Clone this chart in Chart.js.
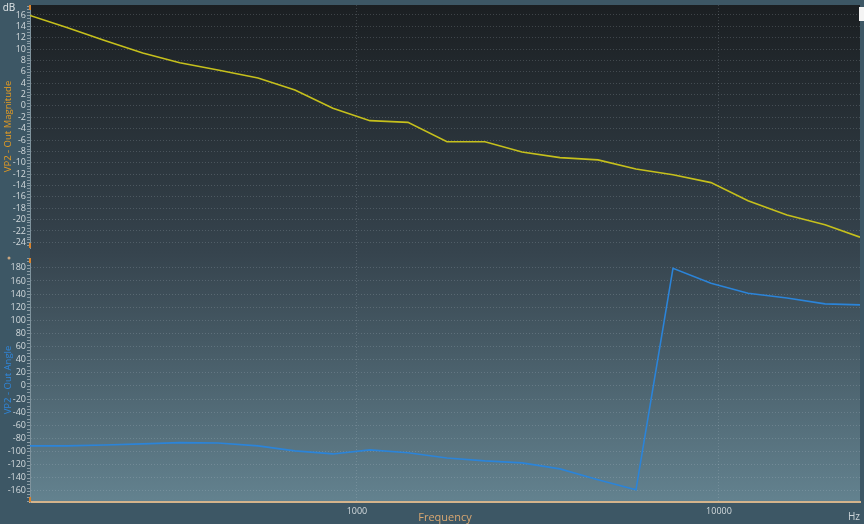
<!DOCTYPE html>
<html><head><meta charset="utf-8">
<script src="https://cdn.jsdelivr.net/npm/chart.js@4.4.1/dist/chart.umd.min.js"></script>
<style>html,body{margin:0;padding:0;background:#3d5765;overflow:hidden}#wrap{width:864px;height:524px;position:relative}canvas{display:block}</style>
</head><body><div id="wrap"><canvas id="c" width="864" height="524" style="width:864px;height:524px"></canvas></div>
<script>
// ---- data ----
const frequencies = [125, 158, 201, 256, 324, 413, 533, 674, 858, 1086, 1383, 1773, 2257, 2857, 3638, 4632, 5898, 7464, 9504, 12030, 15410, 19630, 24520];
const magnitudeDb = [15.9, 13.8, 11.5, 9.3, 7.6, 6.3, 4.9, 2.8, -0.4, -2.6, -2.9, -6.3, -6.3, -8.1, -9.1, -9.5, -11.1, -12.1, -13.5, -16.7, -19.2, -20.9, -23.1];
const angleDeg = [-91.5, -91.5, -90, -88.4, -86.5, -87, -91.5, -99, -103.7, -97.6, -102, -109.8, -114.3, -117.4, -126.5, -143, -158.5, 179.4, 156.6, 141.3, 134, 125, 123.5];
const magTicks = [16, 14, 12, 10, 8, 6, 4, 2, 0, -2, -4, -6, -8, -10, -12, -14, -16, -18, -20, -22, -24];
const angTicks = [180, 160, 140, 120, 100, 80, 60, 40, 20, 0, -20, -40, -60, -80, -100, -120, -140, -160];
const freqTicks = [1000, 10000];
const magRange = [-25, 17.75];
const angRange = [-177, 195];

const FONT = "'Open Sans', 'Noto Sans', sans-serif";
const tickColor = '#d3dadd';
const gridColor = 'rgba(200,212,218,0.2)';

const fitY = s => { s.width = 30; s.paddingTop = 0; s.paddingBottom = 0; };
const fitX = s => { s.height = 22; s.paddingLeft = 0; s.paddingRight = 0; };

const decor = {
  id: 'decor',
  afterLayout(chart) {
    const ca = chart.chartArea, m = chart.scales.yMag, a = chart.scales.yAng;
    m.top = ca.top; m.bottom = 248; m.height = m.bottom - m.top; m.configure();
    a.top = 258; a.bottom = ca.bottom; a.height = a.bottom - a.top; a.configure();
  },
  beforeDraw(chart) {
    const {ctx, chartArea: ca, width, height} = chart;
    ctx.save();
    ctx.fillStyle = '#3d5765';
    ctx.fillRect(0, 0, width, height);
    const g = ctx.createLinearGradient(0, ca.top, 0, ca.bottom);
    g.addColorStop(0, '#1b1f22');
    g.addColorStop(0.5, '#36444e');
    g.addColorStop(1, '#63828f');
    ctx.fillStyle = g;
    ctx.fillRect(ca.left, ca.top, ca.right - ca.left, ca.bottom - ca.top);
    ctx.restore();
  },
  afterDraw(chart) {
    const {ctx, chartArea: ca} = chart;
    const m = chart.scales.yMag, a = chart.scales.yAng;
    ctx.save();
    ctx.strokeStyle = 'rgba(205,215,220,0.55)';
    ctx.lineWidth = 1;
    ctx.beginPath();
    for (let v = -24.5; v <= 17.5; v += 0.5) {
      const y = Math.round(m.getPixelForValue(v)) + 0.5;
      ctx.moveTo(m.right - 3, y); ctx.lineTo(m.right, y);
    }
    for (let v = -175; v <= 195; v += 5) {
      const y = Math.round(a.getPixelForValue(v)) + 0.5;
      ctx.moveTo(a.right - 3, y); ctx.lineTo(a.right, y);
    }
    ctx.stroke();
    ctx.fillStyle = '#d9832b';
    [[m.top, 0], [m.bottom, -5], [a.top, 0], [a.bottom, -5]].forEach(([y, o]) => ctx.fillRect(ca.left - 1, y + o, 2, 5));
    ctx.fillStyle = '#c9a57f';
    ctx.beginPath(); ctx.arc(9, 258, 1.5, 0, Math.PI * 2); ctx.fill();
    ctx.font = '10px ' + FONT;
    ctx.textAlign = 'center'; ctx.textBaseline = 'middle';
    ctx.fillStyle = '#e1e6e8';
    ctx.fillText('dB', 9, 8);
    ctx.fillStyle = '#cdd5d9';
    ctx.fillText('Hz', 854, 517);
    ctx.fillStyle = '#f4f4f4';
    ctx.fillRect(859, 7, 5, 14);
    ctx.restore();
  }
};

new Chart(document.getElementById('c'), {
  type: 'line',
  data: {
    labels: frequencies,
    datasets: [
      { label: 'VP2 - Out Magnitude', data: frequencies.map((f, i) => ({x: f, y: magnitudeDb[i]})), yAxisID: 'yMag',
        borderColor: '#c6c01c', borderWidth: 1.6, pointRadius: 0, tension: 0, fill: false },
      { label: 'VP2 - Out Angle', data: frequencies.map((f, i) => ({x: f, y: angleDeg[i]})), yAxisID: 'yAng',
        borderColor: '#2b84d9', borderWidth: 1.6, pointRadius: 0, tension: 0, fill: false }
    ]
  },
  options: {
    responsive: false,
    animation: false,
    devicePixelRatio: 1,
    layout: { padding: { top: 5, right: 4, left: 0, bottom: 0 } },
    plugins: { legend: { display: false }, tooltip: { enabled: false } },
    scales: {
      x: {
        type: 'logarithmic', position: 'bottom',
        min: frequencies[0], max: frequencies[frequencies.length - 1],
        afterBuildTicks: s => { s.ticks = freqTicks.map(v => ({value: v})); },
        ticks: { color: tickColor, font: { size: 9, family: FONT }, padding: 4, maxRotation: 0, autoSkip: false, callback: v => String(v) },
        grid: { color: gridColor, drawTicks: false, lineWidth: 1 },
        border: { display: true, color: '#d4b48c', width: 2, dash: [1, 2] },
        title: { display: true, text: 'Frequency', color: '#d9a771', font: { size: 11, family: FONT }, padding: { top: 0, bottom: 0 } },
        afterFit: fitX
      },
      yMag: {
        type: 'linear', position: 'left', stack: 'panes', stackWeight: 1,
        min: magRange[0], max: magRange[1],
        afterBuildTicks: s => { s.ticks = magTicks.map(v => ({value: v})); },
        ticks: { color: tickColor, font: { size: 9, family: FONT }, padding: 4, autoSkip: false },
        grid: { color: gridColor, drawTicks: false, lineWidth: 1 },
        border: { display: true, color: '#7f939d', width: 1, dash: [1, 2] },
        title: { display: true, text: 'VP2 - Out Magnitude', color: '#e49c22', font: { size: 9.5, family: FONT }, padding: { top: 3, bottom: 0 } },
        afterFit: fitY
      },
      yAng: {
        type: 'linear', position: 'left', stack: 'panes', stackWeight: 1,
        min: angRange[0], max: angRange[1],
        afterBuildTicks: s => { s.ticks = angTicks.map(v => ({value: v})); },
        ticks: { color: tickColor, font: { size: 9, family: FONT }, padding: 4, autoSkip: false },
        grid: { color: gridColor, drawTicks: false, lineWidth: 1 },
        border: { display: true, color: '#7f939d', width: 1, dash: [1, 2] },
        title: { display: true, text: 'VP2 - Out Angle', color: '#2f86da', font: { size: 9.5, family: FONT }, padding: { top: 3, bottom: 0 } },
        afterFit: fitY
      }
    }
  },
  plugins: [decor]
});
</script>
</body></html>
